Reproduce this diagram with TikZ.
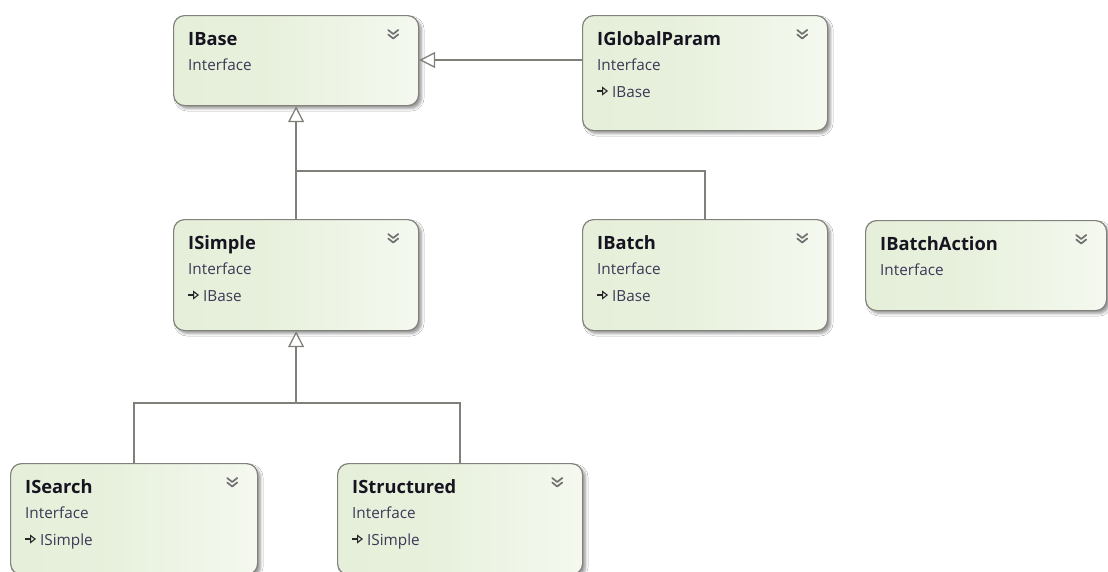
\documentclass[tikz,border=0pt]{standalone}
\usepackage{fontspec}
\setmainfont{Open Sans}
\usetikzlibrary{arrows.meta,shadows.blur}

\definecolor{boxgreen}{RGB}{226,237,212}
\definecolor{boxline}{RGB}{130,130,124}
\definecolor{conncol}{RGB}{128,128,122}
\definecolor{titlecol}{RGB}{22,20,32}
\definecolor{subcol}{RGB}{60,56,86}
\definecolor{chevcol}{RGB}{112,112,112}

\pgfdeclarehorizontalshading{ifshade}{100bp}{color(0bp)=(boxgreen); color(45bp)=(boxgreen!80!white); color(100bp)=(white)}

\tikzset{
  ifbox/.style={draw=boxline, line width=1.2pt, rounded corners=11pt,
    shading=ifshade, anchor=north west, inner sep=0pt,
    blur shadow={shadow xshift=3pt, shadow yshift=-3pt, shadow blur steps=6,
      shadow blur radius=2.5pt, shadow opacity=40}},
  iftitle/.style={anchor=base west, inner sep=0pt,
    font=\fontsize{18.3}{20}\selectfont\bfseries, text=titlecol},
  ifsub/.style={anchor=base west, inner sep=0pt,
    font=\fontsize{15.3}{17}\selectfont, text=subcol},
  conn/.style={draw=conncol, line width=1.6pt},
  inh/.style={conn, -{Triangle[open, length=16pt, width=16pt, line width=1.3pt, fill=white]}},
  implarrow/.style={draw=black!85, line width=1.2pt,
    -{Triangle[open, length=6pt, width=9pt, line width=1.1pt]}},
  chev/.pic={\draw[chevcol, line width=1.7pt, line cap=round, line join=round]
    (-5,0) -- (0,4) -- (5,0) (-5,4.5) -- (0,8.5) -- (5,4.5);}
}

% interface box: name, x, y, width, height, title
\newcommand\ifacebox[6]{%
  \node[ifbox, minimum width=#4pt, minimum height=#5pt] (#1) at (#2,#3) {};
  \node[iftitle] (#1-title) at ([shift={(15,30)}]#1.north west) {#6};
  \node[ifsub] (#1-kind) at ([shift={(15,55)}]#1.north west) {Interface};
  \pic at ([shift={(-26,15)}]#1.north east) {chev};
}
% inherited interface line: box name, parent
\newcommand\ifaceparent[2]{%
  \node[ifsub] (#1-parent) at ([shift={(30,82)}]#1.north west) {#2};
  \draw[implarrow] ([shift={(-15,-6)}]#1-parent.base west) -- ([shift={(-4,-6)}]#1-parent.base west);
}

\begin{document}
\begin{tikzpicture}[x=1pt, y=-1pt]
  \fill[white] (0,0) rectangle (1108,571);
  \useasboundingbox (0,0) rectangle (1108,571);

  \ifacebox{base}{173}{15}{245}{90}{IBase}
  \ifacebox{gp}{582}{15}{245}{115}{IGlobalParam}
  \ifaceparent{gp}{IBase}
  \ifacebox{simple}{173}{219}{245}{111}{ISimple}
  \ifaceparent{simple}{IBase}
  \ifacebox{batch}{582}{219}{245}{111}{IBatch}
  \ifaceparent{batch}{IBase}
  \ifacebox{action}{865}{220}{241}{90}{IBatchAction}
  \ifacebox{search}{10}{463}{247}{111}{ISearch}
  \ifaceparent{search}{ISimple}
  \ifacebox{structured}{337}{463}{245}{111}{IStructured}
  \ifaceparent{structured}{ISimple}

  % bus levels of the inheritance trees
  \coordinate (lvl1) at (0,171);
  \coordinate (lvl2) at (0,403);

  \draw[inh] ([shift={(0,45)}]gp.north west) -- ([shift={(0,45)}]base.north east);
  \draw[inh] (simple.north) -- (base.south);
  \draw[conn] (batch.north) |- (simple.north |- lvl1);
  \draw[inh] (search.north) |- (simple.south |- lvl2) -- (simple.south);
  \draw[conn] (structured.north) |- (simple.south |- lvl2);
\end{tikzpicture}
\end{document}
